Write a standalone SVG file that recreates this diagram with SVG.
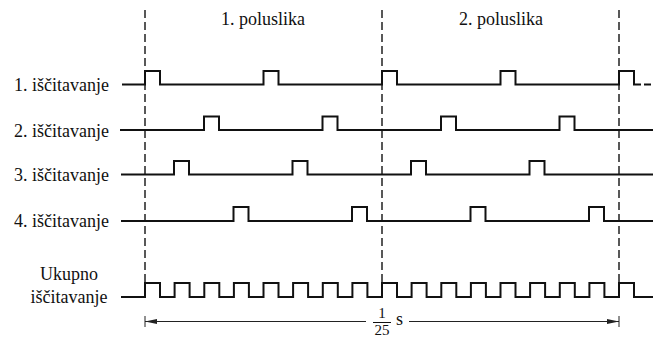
<svg xmlns="http://www.w3.org/2000/svg" width="666" height="339" viewBox="0 0 666 339">
<style>
  .t { font-family: "Liberation Serif", "Times New Roman", serif; font-size: 18px; fill: #111; }
  .f { font-family: "Liberation Serif", "Times New Roman", serif; font-size: 15px; fill: #111; }
  .sig { fill: none; stroke: #111; stroke-width: 2; stroke-linejoin: miter; }
  .dash { fill: none; stroke: #222; stroke-width: 1.5; stroke-dasharray: 8 4; }
  .dim { fill: none; stroke: #222; stroke-width: 1; }
</style>
<defs>
  <marker id="ah" viewBox="0 0 12 6" refX="12" refY="3" markerWidth="12" markerHeight="6" markerUnits="userSpaceOnUse" orient="auto">
    <path d="M0,0.5 L12,3 L0,5.5 Z" fill="#222"/>
  </marker>
</defs>
<rect width="666" height="339" fill="#fff"/>

<g id="headers">
  <text class="t" x="263" y="25" text-anchor="middle">1. poluslika</text>
  <text class="t" x="501" y="25" text-anchor="middle">2. poluslika</text>
</g>

<g id="boundaries">
  <line class="dash" x1="145" y1="10" x2="145" y2="283"/>
  <line class="dash" x1="382" y1="10" x2="382" y2="283"/>
  <line class="dash" x1="619" y1="10" x2="619" y2="283"/>
</g>

<g id="read1">
  <text class="t" x="109" y="91" text-anchor="end">1. iščitavanje</text>
  <path class="sig" d="M122,84.5 H145 V71 H160 V84.5 H263.5 V71 H278.5 V84.5 H382 V71 H397 V84.5 H500.5 V71 H515.5 V84.5 H619 V71 H634 V84.5 H641"/>
  <path class="sig" d="M644,84.5 H651"/>
</g>

<g id="read2">
  <text class="t" x="109" y="137" text-anchor="end">2. iščitavanje</text>
  <path class="sig" d="M120,130 H204 V116.5 H219 V130 H322.5 V116.5 H337.5 V130 H441 V116.5 H456 V130 H559.5 V116.5 H574.5 V130 H653"/>
</g>

<g id="read3">
  <text class="t" x="109" y="181" text-anchor="end">3. iščitavanje</text>
  <path class="sig" d="M121,174.5 H174 V161 H189 V174.5 H292.5 V161 H307.5 V174.5 H411 V161 H426 V174.5 H529.5 V161 H544.5 V174.5 H653"/>
</g>

<g id="read4">
  <text class="t" x="109" y="227" text-anchor="end">4. iščitavanje</text>
  <path class="sig" d="M121,221 H233.5 V207 H248.5 V221 H352 V207 H367 V221 H470.5 V207 H485.5 V221 H589 V207 H604 V221 H653"/>
</g>

<g id="total">
  <text class="t" x="69" y="280" text-anchor="middle">Ukupno</text>
  <text class="t" x="69" y="303" text-anchor="middle">iščitavanje</text>
  <path class="sig" d="M121,297 H145 V283 H160 V297 H174.6 V283 H189.6 V297 H204.3 V283 H219.3 V297 H233.9 V283 H248.9 V297 H263.5 V283 H278.5 V297 H293.1 V283 H308.1 V297 H322.8 V283 H337.8 V297 H352.4 V283 H367.4 V297 H382 V283 H397 V297 H411.6 V283 H426.6 V297 H441.3 V283 H456.3 V297 H470.9 V283 H485.9 V297 H500.5 V283 H515.5 V297 H530.1 V283 H545.1 V297 H559.8 V283 H574.8 V297 H589.4 V283 H604.4 V297 H619 V283 H634 V297 H653"/>
</g>

<g id="dimension">
  <line class="dim" x1="145" y1="316" x2="145" y2="327"/>
  <line class="dim" x1="619" y1="316" x2="619" y2="327"/>
  <line class="dim" x1="366" y1="321.5" x2="145" y2="321.5" marker-end="url(#ah)"/>
  <line class="dim" x1="409" y1="321.5" x2="619" y2="321.5" marker-end="url(#ah)"/>
  <text class="f" x="382" y="318" text-anchor="middle">1</text>
  <line x1="373" y1="322.5" x2="391" y2="322.5" stroke="#111" stroke-width="1"/>
  <text class="f" x="382" y="335" text-anchor="middle">25</text>
  <text class="t" x="396" y="325">s</text>
</g>
</svg>
